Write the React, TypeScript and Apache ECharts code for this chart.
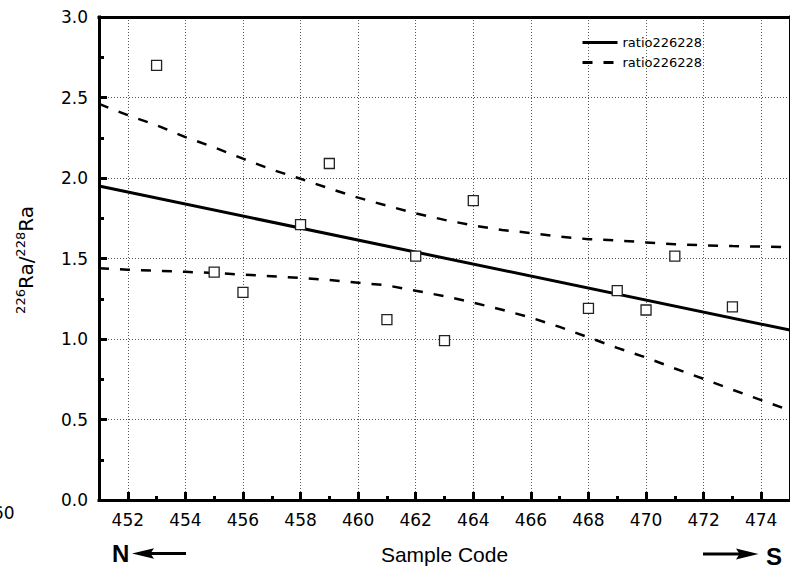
import React, { useEffect, useRef } from 'react';
import * as echarts from 'echarts';

// Sample codes (x) and measured 226Ra/228Ra ratios (y)
const sampleCodes = [453, 455, 456, 458, 459, 461, 462, 463, 464, 468, 469, 470, 471, 473];
const ratioValues = [2.7, 1.415, 1.29, 1.71, 2.09, 1.12, 1.515, 0.99, 1.86, 1.19, 1.3, 1.18, 1.515, 1.2];

// Linear fit end points
const fitX = [451, 475];
const fitY = [1.95, 1.055];

// Confidence band (dashed curves)
const bandX = [451, 452, 453, 454, 455, 456, 457, 458, 459, 460, 461, 462, 463, 464, 465, 466, 467, 468, 469, 470, 471, 472, 473, 474, 475];
const upperBand = [2.46, 2.39, 2.328, 2.254, 2.19, 2.12, 2.052, 1.995, 1.935, 1.878, 1.828, 1.78, 1.74, 1.705, 1.677, 1.658, 1.636, 1.62, 1.612, 1.6, 1.588, 1.582, 1.577, 1.574, 1.57];
const lowerBand = [1.44, 1.43, 1.424, 1.417, 1.41, 1.4, 1.39, 1.379, 1.366, 1.35, 1.333, 1.3, 1.266, 1.226, 1.182, 1.133, 1.075, 1.01, 0.945, 0.885, 0.817, 0.752, 0.685, 0.62, 0.556];

const xRange = [451, 475];
const yRange = [0, 3];
const yInterval = 0.5;

const legendNames = ['ratio226228', 'ratio226228 (band)'];
const legendLabels = ['ratio226228', 'ratio226228'];

export default function App() {
  const ref = useRef<HTMLDivElement>(null);

  useEffect(() => {
    if (!ref.current) return;
    const chart = echarts.init(ref.current, undefined, { renderer: 'svg' });
    const font = 'DejaVu Sans';
    const arial = 'Liberation Sans';
    const dotted = { color: '#555', width: 1, type: [1, 2] };
    const black3 = { color: '#000', width: 3, cap: 'square' };

    const option: any = {
      animation: false,
      backgroundColor: '#ffffff',
      grid: { left: 99, top: 17, right: 0, bottom: 73, containLabel: false, outerBoundsMode: 'none' },
      legend: {
        show: true,
        orient: 'vertical',
        left: 581,
        top: 36,
        padding: 0,
        itemGap: 7,
        itemWidth: 35,
        itemHeight: 14,
        selectedMode: false,
        data: legendNames.map((n) => ({ name: n, itemStyle: { opacity: 0, color: 'transparent', borderWidth: 0 } })),
        formatter: (n: string) => legendLabels[legendNames.indexOf(n)] ?? n,
        textStyle: { fontFamily: font, fontSize: 13, color: '#000' },
        itemStyle: { opacity: 0, color: 'transparent', borderWidth: 0 },
        lineStyle: { width: 3, opacity: 1 },
      },
      xAxis: [
        {
          type: 'value',
          position: 'bottom',
          min: xRange[0],
          max: xRange[1],
          splitNumber: 12,
          minInterval: 2,
          maxInterval: 2,
          axisLine: { show: true, onZero: false, lineStyle: black3 },
          axisTick: { show: true, inside: true, length: 8, lineStyle: { color: '#000', width: 3 } },
          minorTick: { show: true, splitNumber: 2, length: 4, lineStyle: { color: '#000', width: 3 } },
          axisLabel: {
            show: true,
            color: '#000',
            fontFamily: font,
            fontSize: 17,
            margin: 11,
            showMinLabel: false,
            showMaxLabel: false,
            formatter: (v: number) => String(v),
          },
          splitLine: { show: true, showMinLine: false, showMaxLine: false, lineStyle: dotted },
          minorSplitLine: { show: false },
          name: 'Sample Code',
          nameLocation: 'middle',
          nameGap: 44,
          nameTextStyle: { fontFamily: arial, fontSize: 21, color: '#000' },
        },
        {
          type: 'value',
          position: 'top',
          min: xRange[0],
          max: xRange[1],
          axisLine: { show: true, onZero: false, lineStyle: black3 },
          axisTick: { show: false },
          axisLabel: { show: false },
          splitLine: { show: false },
        },
      ],
      yAxis: [
        {
          type: 'value',
          position: 'left',
          min: yRange[0],
          max: yRange[1],
          interval: yInterval,
          axisLine: { show: true, onZero: false, lineStyle: black3 },
          axisTick: { show: true, inside: true, length: 8, lineStyle: { color: '#000', width: 3 } },
          minorTick: { show: true, splitNumber: 2, length: 5, lineStyle: { color: '#000', width: 3 } },
          axisLabel: {
            show: true,
            color: '#000',
            fontFamily: font,
            fontSize: 17,
            margin: 11,
            formatter: (v: number) => v.toFixed(1),
          },
          splitLine: { show: true, showMinLine: false, showMaxLine: false, lineStyle: dotted },
          minorSplitLine: { show: false },
        },
        {
          type: 'value',
          position: 'right',
          min: yRange[0],
          max: yRange[1],
          axisLine: { show: true, onZero: false, lineStyle: black3 },
          axisTick: { show: false },
          axisLabel: { show: false },
          splitLine: { show: false },
        },
      ],
      series: [
        {
          name: legendNames[0],
          type: 'line',
          xAxisIndex: 0,
          yAxisIndex: 0,
          data: fitX.map((x, i) => [x, fitY[i]]),
          symbol: 'none',
          color: '#000',
          lineStyle: { color: '#000', width: 3 },
          z: 3,
        },
        {
          name: legendNames[1],
          type: 'line',
          xAxisIndex: 0,
          yAxisIndex: 0,
          data: bandX.map((x, i) => [x, upperBand[i]]),
          symbol: 'none',
          color: '#000',
          lineStyle: { color: '#000', width: 2.5, type: [10, 11] },
          z: 3,
        },
        {
          name: legendNames[1],
          type: 'line',
          xAxisIndex: 0,
          yAxisIndex: 0,
          data: bandX.map((x, i) => [x, lowerBand[i]]),
          symbol: 'none',
          color: '#000',
          lineStyle: { color: '#000', width: 2.5, type: [10, 11] },
          z: 3,
        },
        {
          name: 'samples',
          type: 'scatter',
          xAxisIndex: 0,
          yAxisIndex: 0,
          data: sampleCodes.map((x, i) => [x, ratioValues[i]]),
          symbol: 'rect',
          symbolSize: 10,
          itemStyle: { color: '#fff', borderColor: '#222', borderWidth: 1.3, opacity: 1 },
          z: 4,
        },
      ],
      graphic: [
        {
          type: 'text',
          x: 26,
          y: 260,
          rotation: Math.PI / 2,
          style: {
            text: '{s|226}{b|Ra/}{s|228}{b|Ra}',
            align: 'center',
            verticalAlign: 'middle',
            textAlign: 'center',
            textVerticalAlign: 'middle',
            fill: '#000',
            rich: {
              b: { fontFamily: font, fontSize: 20, fill: '#000' },
              s: { fontFamily: font, fontSize: 13, fill: '#000', padding: [0, 0, 12, 0] },
            },
          },
        },
        {
          type: 'text',
          x: 112,
          y: 553,
          style: {
            text: 'N',
            fontFamily: arial,
            fontWeight: 'bold',
            fontSize: 24,
            fill: '#000',
            align: 'left',
            verticalAlign: 'middle',
            textAlign: 'left',
            textVerticalAlign: 'middle',
          },
        },
        {
          type: 'polygon',
          shape: { points: [[132, 553.5], [154, 548.3], [150.5, 553.5], [154, 558.7]] },
          style: { fill: '#000' },
        },
        {
          type: 'line',
          shape: { x1: 150, y1: 553.5, x2: 186, y2: 553.5 },
          style: { stroke: '#000', lineWidth: 3 },
        },
        {
          type: 'line',
          shape: { x1: 703, y1: 554, x2: 742, y2: 554 },
          style: { stroke: '#000', lineWidth: 3 },
        },
        {
          type: 'polygon',
          shape: { points: [[758.5, 554], [736, 548.5], [739.5, 554], [736, 559.5]] },
          style: { fill: '#000' },
        },
        {
          type: 'text',
          x: 766,
          y: 556,
          style: {
            text: 'S',
            fontFamily: arial,
            fontWeight: 'bold',
            fontSize: 24,
            fill: '#000',
            align: 'left',
            verticalAlign: 'middle',
            textAlign: 'left',
            textVerticalAlign: 'middle',
          },
        },
        {
          type: 'text',
          x: 14.5,
          y: 513,
          style: {
            text: '460',
            fontFamily: font,
            fontSize: 17,
            fill: '#000',
            align: 'right',
            verticalAlign: 'middle',
            textAlign: 'right',
            textVerticalAlign: 'middle',
          },
        },
      ],
    };

    chart.setOption(option);
    return () => chart.dispose();
  }, []);

  return (
    <div
      ref={ref}
      style={{ position: 'fixed', left: 0, top: 0, width: 790, height: 573, background: '#fff' }}
    />
  );
}
